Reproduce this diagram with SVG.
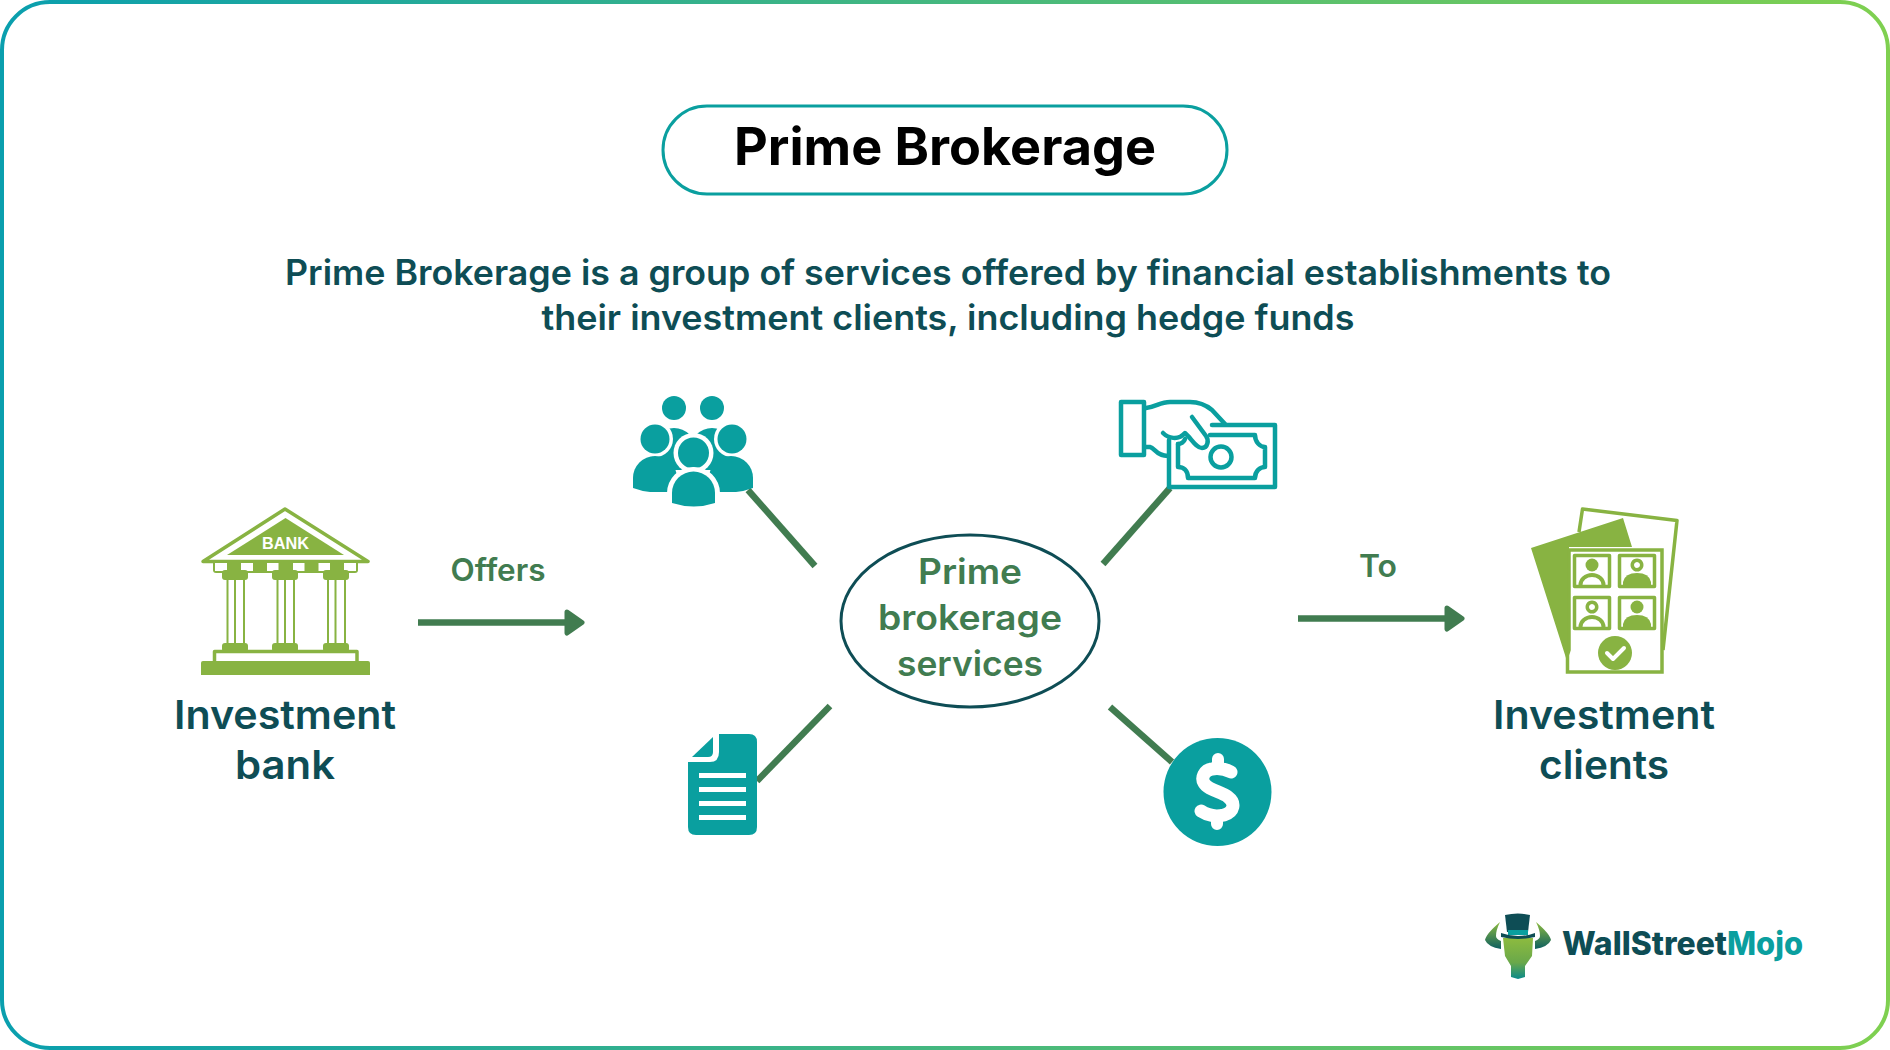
<svg xmlns="http://www.w3.org/2000/svg" width="1890" height="1050" viewBox="0 0 1890 1050">
<style>
.t{font-family:"Inter","Open Sans","Liberation Sans",sans-serif;font-weight:600;text-anchor:middle}
.dark{fill:#0e4d55}.mid{fill:#417c50}
.c{stroke:#417c50;stroke-width:6.500;fill:none}
.teal{fill:#0a9f9f}.green{fill:#88b342}
.ol{fill:none;stroke:#0a9f9f;stroke-width:4.500;stroke-linejoin:round;stroke-linecap:round}
.gl{fill:none;stroke:#88b342;stroke-width:3.500;stroke-linejoin:round}
</style>
<defs>
<linearGradient id="bd" x1="0" y1="0" x2="1" y2="0"><stop offset="0" stop-color="#0a9fae"/><stop offset="1" stop-color="#7fd050"/></linearGradient>
<linearGradient id="bull" x1="0" y1="0" x2="0" y2="1"><stop offset="0" stop-color="#8dbb3f"/><stop offset="0.6" stop-color="#6aa84a"/><stop offset="1" stop-color="#0a8a8a"/></linearGradient>
<linearGradient id="horn" x1="0" y1="0" x2="0" y2="1"><stop offset="0" stop-color="#8dbb3f"/><stop offset="1" stop-color="#0e5f60"/></linearGradient>
<marker id="ah" markerUnits="userSpaceOnUse" markerWidth="26" markerHeight="36" refX="4" refY="18" orient="auto"><path d="M4 7.500L19 18L4 28.500Z" fill="#417c50" stroke="#417c50" stroke-width="5" stroke-linejoin="round"/></marker>
</defs>
<rect width="1890" height="1050" fill="#fff"/>
<rect x="2" y="2" width="1886" height="1046" rx="48" fill="none" stroke="url(#bd)" stroke-width="4"/>
<g id="title"><rect x="663" y="106" width="564" height="88" rx="44" fill="#fff" stroke="#0a9f9f" stroke-width="3"/>
<text class="t" x="945" y="165" font-size="52" fill="#000" style="font-weight:700" textLength="422" lengthAdjust="spacingAndGlyphs">Prime Brokerage</text></g>
<g id="description">
<text class="t dark" x="948" y="285" font-size="35" textLength="1326" lengthAdjust="spacingAndGlyphs">Prime Brokerage is a group of services offered by financial establishments to</text>
<text class="t dark" x="948" y="330" font-size="35" textLength="813" lengthAdjust="spacingAndGlyphs">their investment clients, including hedge funds</text></g>
<g id="connectors">
<path class="c" d="M418 622.500H567" marker-end="url(#ah)"/>
<path class="c" d="M1298 618.500H1447" marker-end="url(#ah)"/>
<path class="c" d="M748 490L815 566"/>
<path class="c" d="M1170 488L1103 564"/>
<path class="c" d="M757 781L830 706"/>
<path class="c" d="M1172 762L1110 707"/>
</g>
<text class="t mid" x="498" y="581" font-size="31" textLength="95" lengthAdjust="spacingAndGlyphs">Offers</text>
<text class="t mid" x="1378" y="577" font-size="31" textLength="38" lengthAdjust="spacingAndGlyphs">To</text>
<g id="bank">
<path class="gl" d="M203 561.500L285 509L368 561.500Z"/>
<path class="green" d="M227 555L285.500 518L344 555Z"/>
<text x="285.500" y="549" font-family="Liberation Sans,sans-serif" font-size="17" fill="#fff" text-anchor="middle" font-weight="700" textLength="47" lengthAdjust="spacingAndGlyphs">BANK</text>
<path class="green" d="M213 562H358V570Q358 573 355 573H216Q213 573 213 570Z"/>
<g fill="#fff"><rect x="215" y="563" width="12" height="8"/><rect x="241" y="563" width="12" height="8"/><rect x="267" y="563" width="11.500" height="8"/><rect x="293" y="563" width="11.500" height="8"/><rect x="318.500" y="563" width="11.500" height="8"/><rect x="344" y="563" width="12" height="8"/></g>
<g class="green">
<rect x="222" y="570" width="26" height="10" rx="3"/><rect x="272" y="570" width="26" height="10" rx="3"/><rect x="323" y="570" width="26" height="10" rx="3"/>
<rect x="222" y="643" width="26" height="9" rx="3"/><rect x="272" y="643" width="26" height="9" rx="3"/><rect x="323" y="643" width="26" height="9" rx="3"/>
</g>
<path d="M227.500 580V644M235 580V644M244 580V644M277.500 580V644M285 580V644M294 580V644M328 580V644M335.500 580V644M345 580V644" stroke="#88b342" stroke-width="2" fill="none"/>
<path d="M214.500 662V651.500H357V662" class="gl" stroke-width="3"/>
<path class="green" d="M203 661H368Q370 661 370 663V675H201V663Q201 661 203 661Z"/>
</g>
<g id="people" class="teal">
<circle cx="674" cy="408" r="12"/><circle cx="712" cy="408" r="12"/>
<path d="M652 450A22 22 0 0 1 696 450V470H652Z"/><path d="M690 450A22 22 0 0 1 734 450V470H690Z"/>
<circle cx="655" cy="439" r="18" fill="#fff"/><circle cx="732" cy="439" r="18" fill="#fff"/>
<circle cx="655" cy="439" r="14.500"/><circle cx="732" cy="439" r="14.500"/>
<path d="M633 488V478A22 22 0 0 1 677 478V492H650Q641 491 633 488Z"/>
<path d="M753 488V478A22 22 0 0 0 709 478V492H736Q745 491 753 488Z"/>
<circle cx="693.500" cy="453" r="20" fill="#fff"/><circle cx="693.500" cy="453" r="15.500"/>
<path d="M693.500 467A26 26 0 0 1 720 493V510H667V493A26 26 0 0 1 693.500 467Z" fill="#fff"/>
<path d="M672 503V493A21.500 21.500 0 0 1 715 493V503Q694 510 672 503Z"/>
</g>
<g id="cash">
<path class="ol" d="M1121 402H1144V455H1121Z"/>
<path class="ol" d="M1146 408C1156 407 1160 402 1170 402H1190C1200 402 1206 405 1212 410L1225 424"/>
<path class="ol" d="M1146 447H1150C1155 448 1156 456 1168 456"/>
<path class="ol" d="M1163 433C1168 438 1178 441 1185 433C1191 438 1196 448 1202 448C1208 448 1209 440 1206 436L1192 417"/>
<path class="ol" d="M1169 440V487H1275V425H1212"/>
<path class="ol" d="M1178 444V467C1183 467 1188 470 1188 478H1255C1255 471 1260 467 1265 467V447C1260 447 1255 442 1255 435H1210"/>
<path class="ol" d="M1178 444C1181 444 1184 442 1185 439"/>
<circle cx="1221" cy="457" r="10.500" class="ol"/>
</g>
<g id="document">
<path class="teal" d="M719 734H749Q757 734 757 742V827Q757 835 749 835H696Q688 835 688 827V762H710Q719 762 719 752Z"/>
<path class="teal" d="M713 737V752Q713 757 708 757H692Z"/>
<g fill="#fff"><rect x="699" y="773" width="47" height="5"/><rect x="699" y="787" width="47" height="5"/><rect x="699" y="801" width="47" height="5"/><rect x="699" y="815" width="47" height="5"/></g>
</g>
<g id="dollar"><circle cx="1217.500" cy="792" r="54" class="teal"/>
<path d="M1231 772C1225 769 1218 768 1212 769C1204 770 1201 778 1204 783C1208 790 1222 792 1228 797C1236 803 1234 812 1224 815C1216 817 1207 815 1201 811" fill="none" stroke="#fff" stroke-width="13" stroke-linecap="round"/>
<path d="M1218 759V768M1217 816V824" stroke="#fff" stroke-width="12" stroke-linecap="round"/>
</g>
<g id="center"><ellipse cx="970" cy="621" rx="129" ry="86" fill="#fff" stroke="#0e4d55" stroke-width="3"/>
<g class="t mid" font-size="35"><text x="970" y="584" textLength="104" lengthAdjust="spacingAndGlyphs">Prime</text><text x="970" y="630" textLength="184" lengthAdjust="spacingAndGlyphs">brokerage</text><text x="970" y="676" textLength="146" lengthAdjust="spacingAndGlyphs">services</text></g></g>
<g id="investment-bank"><g class="t dark" font-size="40"><text x="285" y="729" textLength="222" lengthAdjust="spacingAndGlyphs">Investment</text><text x="285" y="779" textLength="100" lengthAdjust="spacingAndGlyphs">bank</text></g></g>
<g id="clients">
<path d="M1579 532L1582.500 509L1677 520.500L1663 650" class="gl"/>
<path class="green" d="M1531 548L1623 518L1632 547H1569V650L1566 658Z"/>
<path d="M1569 550H1662V672H1567.500V655L1569 650Z" fill="#fff" stroke="#88b342" stroke-width="3.500" stroke-linejoin="miter"/>
<g fill="#fff" stroke="#88b342" stroke-width="3.500" stroke-linejoin="round"><rect x="1574.500" y="555.500" width="35" height="31"/><rect x="1619.500" y="555.500" width="35" height="31"/><rect x="1574.500" y="597.500" width="35" height="31"/><rect x="1619.500" y="597.500" width="35" height="31"/></g>
<g class="green"><circle cx="1592" cy="565" r="6.500"/><path d="M1578.500 585A13.500 12 0 0 1 1605.500 585H1601.500A9.500 8 0 0 0 1582.500 585Z"/>
<path fill-rule="evenodd" d="M1637 558.500a6.500 6.500 0 1 0 .01 0ZM1637 562a3 3 0 1 1-.01 0Z"/><path d="M1623 586V582Q1625 573 1637 573Q1649 573 1651 582V586Z"/>
<path fill-rule="evenodd" d="M1592 600.500a6.500 6.500 0 1 0 .01 0ZM1592 604a3 3 0 1 1-.01 0Z"/><path d="M1578.500 627A13.500 12 0 0 1 1605.500 627H1601.500A9.500 8 0 0 0 1582.500 627Z"/>
<circle cx="1637" cy="607" r="6.500"/><path d="M1623 628V624Q1625 615 1637 615Q1649 615 1651 624V628Z"/></g>
<circle cx="1615" cy="653" r="17" class="green"/><path d="M1607 653L1613 659L1624 648" fill="none" stroke="#fff" stroke-width="4" stroke-linecap="round" stroke-linejoin="round"/>
<g class="t dark" font-size="40"><text x="1604" y="729" textLength="222" lengthAdjust="spacingAndGlyphs">Investment</text><text x="1604" y="779" textLength="130" lengthAdjust="spacingAndGlyphs">clients</text></g>
</g>
<g id="logo">
<path d="M1500 922Q1486 934 1485 940Q1488 947 1501 949L1501 941Q1496 939 1496 936Q1496 930 1500 922Z" fill="url(#horn)"/>
<path d="M1536 922Q1550 934 1551 940Q1548 947 1535 949L1535 941Q1540 939 1540 936Q1540 930 1536 922Z" fill="url(#horn)"/>
<path d="M1503 938H1533L1532 956L1525 966V977L1518 979L1511 977V966L1505 956Z" fill="url(#bull)"/>
<path d="M1505 915Q1518 912 1530 915L1528 932H1507Z" fill="#0e4d55"/>
<rect x="1508" y="930" width="20" height="5" fill="#0a9f9f"/>
<path d="M1501 933Q1518 939 1535 933L1535 937Q1518 941 1501 937Z" fill="#0e4d55"/>
<text x="1562" y="955" font-family="Inter,Liberation Sans,sans-serif" font-size="32" font-weight="800" fill="#0e4d55" textLength="165" lengthAdjust="spacingAndGlyphs">WallStreet</text>
<text x="1727" y="955" font-family="Inter,Liberation Sans,sans-serif" font-size="32" font-weight="800" fill="#0a9f9f" textLength="76" lengthAdjust="spacingAndGlyphs">Mojo</text>
</g>
</svg>
